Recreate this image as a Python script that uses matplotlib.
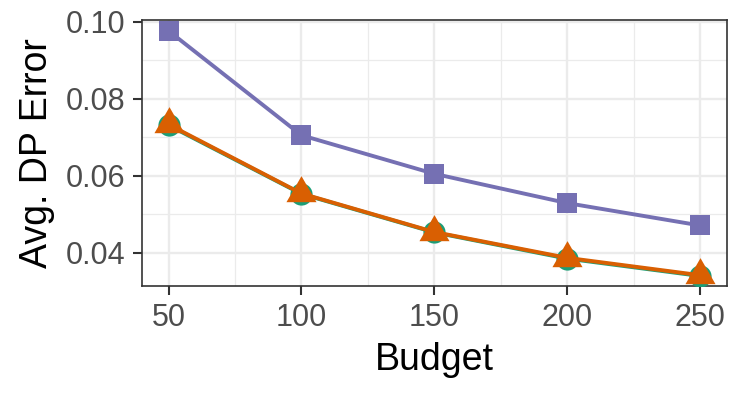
import matplotlib
matplotlib.use("Agg")
import matplotlib.pyplot as plt
import matplotlib.ticker as mticker

budget = [50, 100, 150, 200, 250]
err_square = [0.0976, 0.0705, 0.0605, 0.0529, 0.0471]
err_circle = [0.0731, 0.0553, 0.0453, 0.0385, 0.0340]
err_triangle = [0.0733, 0.0554, 0.0454, 0.0387, 0.0342]

x_ticks = [50, 100, 150, 200, 250]
y_ticks = [0.04, 0.06, 0.08, 0.10]
y_tick_labels = ["0.04", "0.06", "0.08", "0.10"]

plt.rcParams['font.family'] = ['Liberation Sans', 'DejaVu Sans']

# triangle centred on its centroid, like ggplot's shape 17
tri = [(0, 0.577), (-0.5, -0.289), (0.5, -0.289), (0, 0.577)]

fig = plt.figure(figsize=(7.47, 3.98), dpi=100)
ax = fig.add_axes([0.190, 0.2814, 0.783, 0.6683])

# ggplot-style grid
ax.xaxis.set_minor_locator(mticker.FixedLocator([75, 125, 175, 225]))
ax.yaxis.set_minor_locator(mticker.FixedLocator([0.05, 0.07, 0.09]))
ax.grid(which='major', color='#EBEBEB', linewidth=1.7, zorder=0)
ax.grid(which='minor', color='#EBEBEB', linewidth=0.9, zorder=0)
ax.set_axisbelow(True)

ax.plot(budget, err_square, color='#7570B3', linewidth=2.8, marker='s',
        markersize=15, markeredgewidth=0, zorder=3)
ax.plot(budget, err_circle, color='#1B9E77', linewidth=2.8, marker='o',
        markersize=16, markeredgewidth=0, zorder=4)
ax.plot(budget, err_triangle, color='#D95F02', linewidth=2.8, marker=tri,
        markersize=25, markeredgewidth=0, zorder=5)

ax.set_xlim(40, 260)
ax.set_ylim(0.0314, 0.1004)
ax.set_xticks(x_ticks)
ax.set_yticks(y_ticks)
ax.set_yticklabels(y_tick_labels)

for s in ax.spines.values():
    s.set_color('#333333')
    s.set_linewidth(1.2)

ax.tick_params(which='major', length=6.5, width=1.5, color='#333333',
               labelcolor='#4D4D4D', labelsize=22, pad=5.5)
ax.tick_params(which='minor', length=0)

ax.set_xlabel('Budget', fontsize=27, color='black')
ax.set_ylabel('Avg. DP Error', fontsize=27, color='black')
ax.xaxis.set_label_coords(0.5, -0.278)
ax.xaxis.label.set_va('center')
ax.yaxis.set_label_coords(-0.1795, 0.5)
ax.yaxis.label.set_va('center')

fig.savefig('out.png', dpi=100)
